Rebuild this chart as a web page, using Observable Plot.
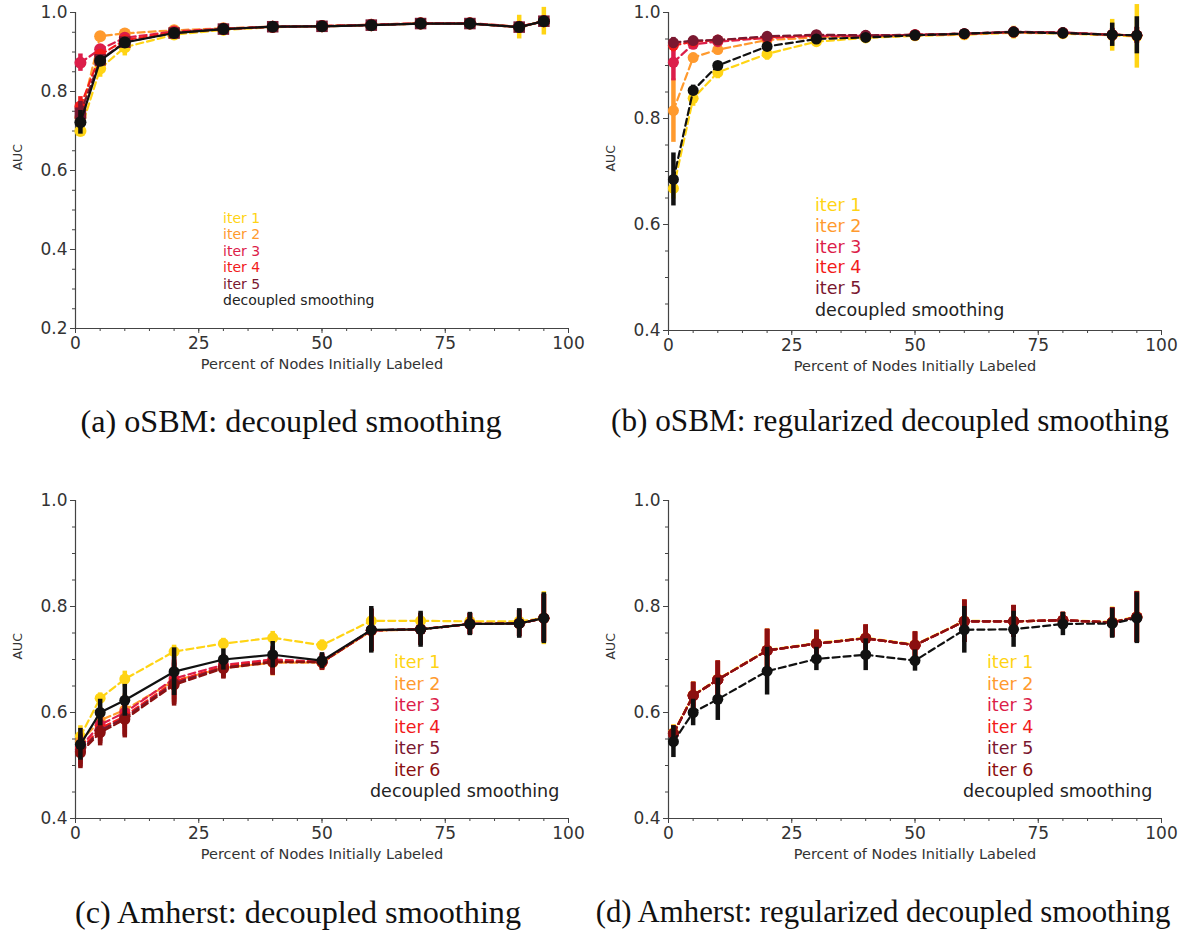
<!DOCTYPE html>
<html><head><meta charset="utf-8">
<script src="https://cdn.jsdelivr.net/npm/d3@7"></script>
<script src="https://cdn.jsdelivr.net/npm/@observablehq/plot@0.6"></script>
<style>
body{margin:0;background:#fff;}
#root{position:relative;width:1184px;height:930px;overflow:hidden;background:#fff;}
.panel{position:absolute;}
.leg{position:absolute;font-family:"DejaVu Sans";line-height:1;white-space:nowrap;transform:translateY(-50%);}
.caption{position:absolute;font-family:"Liberation Serif";font-size:31.5px;white-space:nowrap;transform:translate(-50%,-50%);color:#111;}
</style></head><body><div id="root"></div>
<script>
// ---------- data ----------
const xs = [1, 5, 10, 20, 30, 40, 50, 60, 70, 80, 90, 95];
const xTicks = [0, 25, 50, 75, 100];

const seriesNames5 = ["iter 1", "iter 2", "iter 3", "iter 4", "iter 5", "decoupled smoothing"];
const seriesNames6 = ["iter 1", "iter 2", "iter 3", "iter 4", "iter 5", "iter 6", "decoupled smoothing"];
const seriesColors = ["#FFD414", "#FF9A2E", "#DC1E4A", "#F21B1B", "#7A1830", "#8B1010", "#111111"];

// (a) oSBM: decoupled smoothing
const A_iter1     = [0.700, 0.858, 0.912, 0.944, 0.956, 0.963, 0.965, 0.968, 0.972, 0.972, 0.963, 0.978];
const A_iter1_err = [0.012, 0.022, 0.022, 0.010, 0.006, 0.005, 0.005, 0.005, 0.006, 0.006, 0.030, 0.035];
const A_iter2     = [0.735, 0.940, 0.947, 0.955, 0.960, 0.964, 0.966, 0.969, 0.973, 0.973, 0.964, 0.978];
const A_iter2_err = [0.020, 0.008, 0.006, 0.005, 0.004, 0.004, 0.004, 0.004, 0.005, 0.005, 0.010, 0.012];
const A_iter3     = [0.873, 0.907, 0.936, 0.952, 0.959, 0.964, 0.966, 0.969, 0.973, 0.973, 0.964, 0.978];
const A_iter3_err = [0.022, 0.010, 0.008, 0.005, 0.004, 0.004, 0.004, 0.004, 0.005, 0.005, 0.010, 0.012];
const A_iter4     = [0.762, 0.893, 0.930, 0.950, 0.958, 0.964, 0.965, 0.968, 0.972, 0.972, 0.963, 0.978];
const A_iter4_err = [0.025, 0.012, 0.008, 0.005, 0.004, 0.004, 0.004, 0.004, 0.005, 0.005, 0.010, 0.012];
const A_iter5     = [0.745, 0.880, 0.925, 0.948, 0.958, 0.964, 0.965, 0.968, 0.972, 0.972, 0.963, 0.978];
const A_iter5_err = [0.030, 0.012, 0.008, 0.005, 0.004, 0.004, 0.004, 0.004, 0.005, 0.005, 0.010, 0.012];
const A_dec       = [0.722, 0.878, 0.924, 0.948, 0.958, 0.964, 0.965, 0.968, 0.972, 0.972, 0.963, 0.978];
const A_dec_err   = [0.030, 0.012, 0.008, 0.005, 0.004, 0.004, 0.004, 0.004, 0.005, 0.005, 0.010, 0.012];

// (b) oSBM: regularized decoupled smoothing
const B_iter1     = [0.668, 0.838, 0.887, 0.922, 0.945, 0.952, 0.956, 0.958, 0.962, 0.960, 0.957, 0.955];
const B_iter1_err = [0.020, 0.015, 0.012, 0.012, 0.008, 0.006, 0.006, 0.006, 0.012, 0.010, 0.030, 0.060];
const B_iter2     = [0.815, 0.915, 0.930, 0.948, 0.953, 0.955, 0.957, 0.959, 0.963, 0.961, 0.958, 0.957];
const B_iter2_err = [0.060, 0.008, 0.006, 0.005, 0.005, 0.004, 0.004, 0.004, 0.006, 0.006, 0.012, 0.015];
const B_iter3     = [0.906, 0.940, 0.945, 0.952, 0.956, 0.956, 0.958, 0.960, 0.963, 0.962, 0.958, 0.957];
const B_iter3_err = [0.035, 0.008, 0.006, 0.005, 0.004, 0.004, 0.004, 0.004, 0.006, 0.006, 0.012, 0.015];
const B_iter4     = [0.938, 0.945, 0.948, 0.953, 0.957, 0.956, 0.958, 0.960, 0.963, 0.962, 0.958, 0.957];
const B_iter4_err = [0.012, 0.006, 0.005, 0.005, 0.004, 0.004, 0.004, 0.004, 0.006, 0.006, 0.012, 0.015];
const B_iter5     = [0.943, 0.947, 0.948, 0.955, 0.958, 0.957, 0.958, 0.960, 0.964, 0.962, 0.958, 0.957];
const B_iter5_err = [0.010, 0.006, 0.005, 0.005, 0.004, 0.004, 0.004, 0.004, 0.006, 0.006, 0.012, 0.015];
const B_dec       = [0.685, 0.853, 0.900, 0.936, 0.950, 0.953, 0.957, 0.960, 0.963, 0.961, 0.958, 0.957];
const B_dec_err   = [0.050, 0.010, 0.006, 0.006, 0.006, 0.005, 0.005, 0.005, 0.008, 0.010, 0.022, 0.035];

// (c) Amherst: decoupled smoothing
const C_iter1     = [0.555, 0.627, 0.663, 0.715, 0.730, 0.741, 0.727, 0.773, 0.773, 0.772, 0.772, 0.778];
const C_iter1_err = [0.020, 0.010, 0.015, 0.012, 0.010, 0.012, 0.010, 0.012, 0.015, 0.010, 0.015, 0.050];
const C_iter2     = [0.545, 0.585, 0.605, 0.660, 0.684, 0.694, 0.694, 0.754, 0.757, 0.767, 0.768, 0.778];
const C_iter2_err = [0.025, 0.025, 0.030, 0.040, 0.020, 0.025, 0.015, 0.040, 0.030, 0.020, 0.025, 0.045];
const C_iter3     = [0.535, 0.577, 0.600, 0.664, 0.690, 0.700, 0.696, 0.755, 0.757, 0.767, 0.768, 0.778];
const C_iter3_err = [0.025, 0.025, 0.030, 0.040, 0.020, 0.025, 0.015, 0.040, 0.030, 0.020, 0.025, 0.045];
const C_iter4     = [0.530, 0.570, 0.593, 0.658, 0.687, 0.698, 0.695, 0.755, 0.757, 0.767, 0.768, 0.778];
const C_iter4_err = [0.028, 0.025, 0.035, 0.040, 0.020, 0.025, 0.015, 0.040, 0.030, 0.020, 0.025, 0.045];
const C_iter5     = [0.527, 0.566, 0.590, 0.655, 0.685, 0.696, 0.695, 0.755, 0.757, 0.767, 0.768, 0.778];
const C_iter5_err = [0.030, 0.025, 0.035, 0.040, 0.020, 0.025, 0.015, 0.040, 0.030, 0.020, 0.025, 0.045];
const C_iter6     = [0.524, 0.562, 0.587, 0.652, 0.683, 0.695, 0.695, 0.755, 0.757, 0.767, 0.768, 0.778];
const C_iter6_err = [0.030, 0.025, 0.035, 0.040, 0.020, 0.025, 0.015, 0.040, 0.030, 0.020, 0.025, 0.045];
const C_dec       = [0.540, 0.600, 0.623, 0.677, 0.700, 0.709, 0.698, 0.756, 0.757, 0.767, 0.768, 0.778];
const C_dec_err   = [0.030, 0.025, 0.030, 0.045, 0.020, 0.025, 0.015, 0.044, 0.034, 0.022, 0.028, 0.048];

// (d) Amherst: regularized decoupled smoothing
const D_iter1     = [0.562, 0.633, 0.663, 0.718, 0.731, 0.741, 0.728, 0.773, 0.772, 0.774, 0.771, 0.781];
const D_iter1_err = [0.015, 0.025, 0.035, 0.040, 0.025, 0.025, 0.025, 0.040, 0.030, 0.015, 0.028, 0.048];
const D_iter2     = [0.561, 0.632, 0.662, 0.717, 0.730, 0.740, 0.727, 0.772, 0.772, 0.774, 0.770, 0.780];
const D_iter2_err = [0.015, 0.025, 0.035, 0.040, 0.025, 0.025, 0.025, 0.040, 0.030, 0.015, 0.028, 0.048];
const D_iter3     = [0.560, 0.632, 0.662, 0.717, 0.730, 0.740, 0.727, 0.772, 0.772, 0.774, 0.770, 0.780];
const D_iter3_err = [0.015, 0.025, 0.035, 0.040, 0.025, 0.025, 0.025, 0.040, 0.030, 0.015, 0.028, 0.048];
const D_iter4     = [0.560, 0.632, 0.662, 0.717, 0.730, 0.740, 0.727, 0.772, 0.772, 0.774, 0.770, 0.780];
const D_iter4_err = [0.015, 0.025, 0.035, 0.040, 0.025, 0.025, 0.025, 0.040, 0.030, 0.015, 0.028, 0.048];
const D_iter5     = [0.560, 0.632, 0.662, 0.717, 0.730, 0.740, 0.727, 0.772, 0.772, 0.774, 0.770, 0.780];
const D_iter5_err = [0.015, 0.025, 0.035, 0.040, 0.025, 0.025, 0.025, 0.040, 0.030, 0.015, 0.028, 0.048];
const D_iter6     = [0.560, 0.632, 0.662, 0.717, 0.730, 0.740, 0.727, 0.772, 0.772, 0.774, 0.770, 0.780];
const D_iter6_err = [0.015, 0.025, 0.035, 0.040, 0.025, 0.025, 0.025, 0.040, 0.030, 0.015, 0.028, 0.048];
const D_dec       = [0.545, 0.600, 0.625, 0.678, 0.701, 0.709, 0.698, 0.756, 0.757, 0.767, 0.768, 0.778];
const D_dec_err   = [0.030, 0.025, 0.040, 0.045, 0.022, 0.030, 0.020, 0.044, 0.034, 0.022, 0.028, 0.048];

const captions = [
  "(a) oSBM: decoupled smoothing",
  "(b) oSBM: regularized decoupled smoothing",
  "(c) Amherst: decoupled smoothing",
  "(d) Amherst: regularized decoupled smoothing"
];

// ---------- layout ----------
const M = {left: 60, top: 12, right: 30, bottom: 50};
const panels = [
  {left: 15, top: 0, plotH: 316, yDomain: [0.2, 1.0], decDash: false, squareIter5: true,
   means: [A_iter1, A_iter2, A_iter3, A_iter4, A_iter5, A_dec],
   errs: [A_iter1_err, A_iter2_err, A_iter3_err, A_iter4_err, A_iter5_err, A_dec_err],
   names: seriesNames5, colorIdx: [0,1,2,3,4,6], r: 6,
   legend: {iterLeft: 223, decLeft: 223, ys: [217.5, 234, 250.5, 267, 283.5, 300], size: 14},
   caption: {x: 291, y: 421, size: 32.2}},
  {left: 608, top: 0, plotH: 318, yDomain: [0.4, 1.0], decDash: true, squareIter5: false,
   means: [B_iter1, B_iter2, B_iter3, B_iter4, B_iter5, B_dec],
   errs: [B_iter1_err, B_iter2_err, B_iter3_err, B_iter4_err, B_iter5_err, B_dec_err],
   names: seriesNames5, colorIdx: [0,1,2,3,4,6], r: 5.5,
   legend: {iterLeft: 815, decLeft: 815, ys: [206, 227, 248, 268, 289, 311], size: 17.5},
   caption: {x: 890, y: 421, size: 31.2}},
  {left: 15, top: 488, plotH: 318, yDomain: [0.4, 1.0], decDash: false, squareIter5: false,
   means: [C_iter1, C_iter2, C_iter3, C_iter4, C_iter5, C_iter6, C_dec],
   errs: [C_iter1_err, C_iter2_err, C_iter3_err, C_iter4_err, C_iter5_err, C_iter6_err, C_dec_err],
   names: seriesNames6, colorIdx: [0,1,2,3,4,5,6], r: 5.5,
   legend: {iterLeft: 394, decLeft: 370, ys: [663, 685, 706, 728, 749, 771, 792], size: 17.5},
   caption: {x: 298, y: 912, size: 32.2}},
  {left: 608, top: 488, plotH: 318, yDomain: [0.4, 1.0], decDash: true, squareIter5: false,
   means: [D_iter1, D_iter2, D_iter3, D_iter4, D_iter5, D_iter6, D_dec],
   errs: [D_iter1_err, D_iter2_err, D_iter3_err, D_iter4_err, D_iter5_err, D_iter6_err, D_dec_err],
   names: seriesNames6, colorIdx: [0,1,2,3,4,5,6], r: 5.5,
   legend: {iterLeft: 987, decLeft: 963, ys: [663, 685, 706, 728, 749, 771, 792], size: 17.5},
   caption: {x: 883, y: 912, size: 30.8}}
];

const root = document.getElementById("root");
const plotW = 493;

panels.forEach((p, pi) => {
  const marks = [];
  const [y0, y1] = p.yDomain;
  // minor + major ticks (matplotlib-like)
  marks.push(Plot.axisX({ticks: d3.range(0, 101, 5), tickSize: 3, tickFormat: () => "", label: null, stroke: "#444"}));
  marks.push(Plot.axisX({ticks: xTicks, tickSize: 5, tickPadding: 3, fontSize: 17, label: null, stroke: "#444"}));
  marks.push(Plot.axisY({ticks: d3.range(Math.round(y0 * 20), Math.round(y1 * 20) + 1).map(v => v / 20), tickSize: 3, tickFormat: () => "", label: null, stroke: "#444"}));
  marks.push(Plot.axisY({ticks: d3.range(Math.round(y0 * 5), Math.round(y1 * 5) + 1).map(v => v / 5), tickSize: 5, tickPadding: 3, fontSize: 17, tickFormat: d3.format(".1f"), label: null, stroke: "#444"}));
  marks.push(Plot.ruleX([0], {stroke: "#444", strokeWidth: 1.2}));
  marks.push(Plot.ruleY([y0], {stroke: "#444", strokeWidth: 1.2}));
  marks.push(Plot.text(["AUC"], {frameAnchor: "left", dx: -58, rotate: -90, fontSize: 12.5, fill: "#333"}));
  marks.push(Plot.text(["Percent of Nodes Initially Labeled"], {frameAnchor: "bottom", dy: 40, fontSize: 14.5, fill: "#333"}));

  p.means.forEach((vals, si) => {
    const color = seriesColors[p.colorIdx[si]];
    const isDec = si === p.means.length - 1;
    const data = xs.map((x, i) => ({x, y: vals[i], e: p.errs[si][i]}));
    marks.push(Plot.ruleX(data, {x: "x", y1: d => d.y - d.e, y2: d => d.y + d.e, stroke: color, strokeWidth: 4.5}));
    marks.push(Plot.line(data, {x: "x", y: "y", stroke: color, strokeWidth: 2.2,
      strokeDasharray: (isDec && !p.decDash) ? null : "7,4"}));
    const sq = p.squareIter5 && si === 4;
    marks.push(Plot.dot(data, {x: "x", y: "y", r: sq ? 6.5 : p.r, fill: color, stroke: "none", symbol: sq ? "square" : "circle"}));
  });

  const svg = Plot.plot({
    width: M.left + plotW + M.right,
    height: M.top + p.plotH + M.bottom,
    marginLeft: M.left, marginRight: M.right, marginTop: M.top, marginBottom: M.bottom,
    x: {domain: [0, 100]},
    y: {domain: p.yDomain},
    style: {fontFamily: "DejaVu Sans", color: "#333", background: "transparent", overflow: "visible"},
    marks
  });
  svg.classList.add("panel");
  svg.style.left = p.left + "px";
  svg.style.top = p.top + "px";
  root.appendChild(svg);

  // legend (text only, coloured)
  p.names.forEach((name, si) => {
    const isDec = si === p.names.length - 1;
    const div = document.createElement("div");
    div.className = "leg";
    div.textContent = name;
    div.style.fontSize = p.legend.size + "px";
    div.style.color = isDec ? "#222" : seriesColors[p.colorIdx[si]];
    div.style.left = (isDec ? p.legend.decLeft : p.legend.iterLeft) + "px";
    div.style.top = p.legend.ys[si] + "px";
    root.appendChild(div);
  });

  const cap = document.createElement("div");
  cap.className = "caption";
  cap.textContent = captions[pi];
  cap.style.fontSize = p.caption.size + "px";
  cap.style.left = p.caption.x + "px";
  cap.style.top = p.caption.y + "px";
  root.appendChild(cap);
});
</script>
</body></html>
